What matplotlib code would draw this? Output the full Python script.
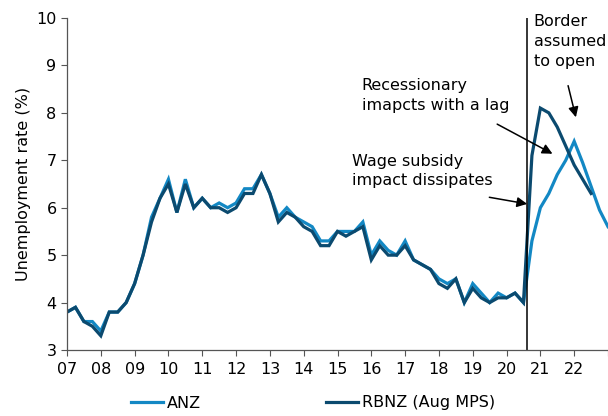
import numpy as np
import matplotlib
matplotlib.use('Agg')
import matplotlib.pyplot as plt

# quarterly, starting 2007 Q1
start_year = 2007
anz = [3.8, 3.9, 3.6, 3.6, 3.4, 3.8, 3.8, 4.0, 4.4, 5.0, 5.8, 6.2, 6.6, 5.9, 6.6, 6.0,
       6.2, 6.0, 6.1, 6.0, 6.1, 6.4, 6.4, 6.7, 6.3, 5.8, 6.0, 5.8, 5.7, 5.6, 5.3, 5.3,
       5.5, 5.5, 5.5, 5.7, 5.0, 5.3, 5.1, 5.0, 5.3, 4.9, 4.8, 4.7, 4.5, 4.4, 4.5, 4.0,
       4.4, 4.2, 4.0, 4.2, 4.1, 4.2, 4.0, 5.3, 6.0, 6.3, 6.7, 7.0, 7.4, 6.95, 6.45, 5.95,
       5.6]
rbnz = [3.8, 3.9, 3.6, 3.5, 3.3, 3.8, 3.8, 4.0, 4.4, 5.0, 5.7, 6.2, 6.5, 5.9, 6.5, 6.0,
        6.2, 6.0, 6.0, 5.9, 6.0, 6.3, 6.3, 6.7, 6.3, 5.7, 5.9, 5.8, 5.6, 5.5, 5.2, 5.2,
        5.5, 5.4, 5.5, 5.6, 4.9, 5.2, 5.0, 5.0, 5.2, 4.9, 4.8, 4.7, 4.4, 4.3, 4.5, 4.0,
        4.3, 4.1, 4.0, 4.1, 4.1, 4.2, 4.0, 7.1, 8.1, 8.0, 7.7, 7.3, 6.9, 6.6, 6.3]
year_ticks = list(range(2007, 2024))
year_labels = ['%02d' % (y % 100) for y in range(2007, 2023)] + ['']
border_x = 2020.59

c_anz, c_rbnz = '#1388C4', '#0B4A6F'
fs = 11.5

x_anz = start_year + np.arange(len(anz)) / 4
x_rbnz = start_year + np.arange(len(rbnz)) / 4

fig = plt.figure(figsize=(6.08, 4.16), dpi=100)
ax = fig.add_axes([67/608, 1 - 350/416, 541/608, 332/416])

ax.plot(x_anz, anz, color=c_anz, lw=2.3, label='ANZ', solid_joinstyle='miter')
ax.plot(x_rbnz, rbnz, color=c_rbnz, lw=2.3, label='RBNZ (Aug MPS)', solid_joinstyle='miter')
ax.axvline(border_x, color='black', lw=1.1)

ax.set_xlim(2007, 2023)
ax.set_ylim(3, 10)
ax.set_xticks(year_ticks)
ax.set_xticklabels(year_labels, fontsize=fs)
ax.set_yticks(range(3, 11))
ax.tick_params(axis='y', labelsize=fs, direction='out', length=4, width=0.8, color='#555555')
ax.tick_params(axis='x', direction='out', length=4, width=0.8, color='#555555', pad=5)
for s in ['top', 'right']:
    ax.spines[s].set_visible(False)
for s in ['left', 'bottom']:
    ax.spines[s].set_color('#555555')
    ax.spines[s].set_linewidth(0.9)
ax.set_ylabel('Unemployment rate (%)', fontsize=fs, labelpad=4)

arrow = dict(arrowstyle='-|>', color='black', lw=1.1, mutation_scale=15)
ax.annotate('', xy=(2022.07, 7.85), xytext=(2021.8, 8.63), arrowprops=arrow)
ax.annotate('', xy=(2021.43, 7.11), xytext=(2019.65, 7.79), arrowprops=arrow)
ax.annotate('', xy=(2020.69, 6.07), xytext=(2019.41, 6.23), arrowprops=arrow)
ax.text(2020.8, 10.08, 'Border\nassumed\nto open', fontsize=fs, va='top', ha='left', linespacing=1.4)
ax.text(2015.72, 8.74, 'Recessionary\nimapcts with a lag', fontsize=fs, va='top', ha='left', linespacing=1.4)
ax.text(2015.44, 7.14, 'Wage subsidy\nimpact dissipates', fontsize=fs, va='top', ha='left', linespacing=1.4)

fig.legend(loc='center', bbox_to_anchor=(313/608, 1 - 403/416), ncol=2, frameon=False, fontsize=fs,
           handlelength=2.0, handletextpad=0.25, columnspacing=7.8)

fig.savefig('out.png', dpi=100)
